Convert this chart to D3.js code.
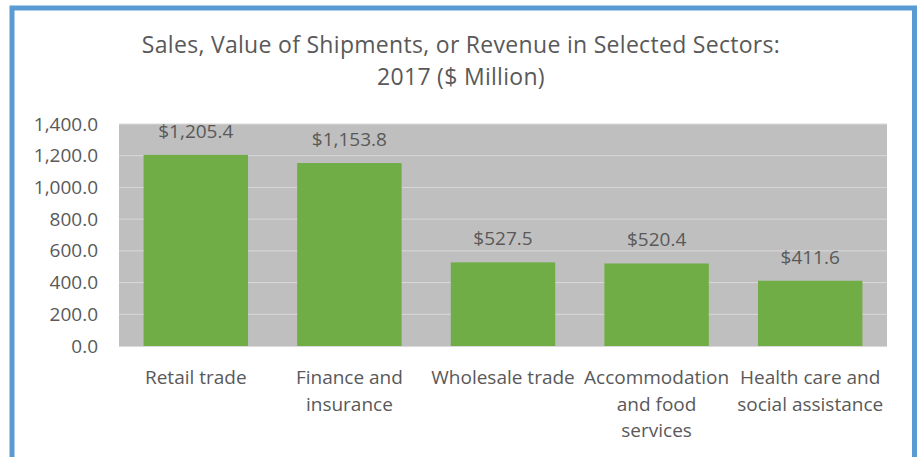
<!DOCTYPE html>
<html><head><meta charset="utf-8">
<script src="https://cdn.jsdelivr.net/npm/d3@7"></script>
<style>
html,body{margin:0;padding:0;background:#fff;}
svg{display:block;}
text{font-family:"Open Sans",sans-serif;fill:#595959;}
</style></head><body>
<svg id="c" width="917" height="457"></svg>
<script>
const categories = ["Retail trade","Finance and insurance","Wholesale trade","Accommodation and food services","Health care and social assistance"];
const categoryLines = [["Retail trade"],["Finance and","insurance"],["Wholesale trade"],["Accommodation","and food","services"],["Health care and","social assistance"]];
const values = [1205.4, 1153.8, 527.5, 520.4, 411.6];
const yTicks = [0,200,400,600,800,1000,1200,1400];
const titleLines = ["Sales, Value of Shipments, or Revenue in Selected Sectors:","2017 ($ Million)"];

const svg = d3.select("#c");
const W = 917, H = 457;
const plot = {left:119, right:887, top:124, bottom:346};

svg.append("rect").attr("x",12).attr("y",8).attr("width",W-12-2.5).attr("height",H+20)
  .attr("fill","none").attr("stroke","#5b9bd5").attr("stroke-width",5);

const x = d3.scaleBand().domain(categories).range([plot.left,plot.right]).paddingInner(0.32).paddingOuter(0.16);
const y = d3.scaleLinear().domain([0,1400]).range([plot.bottom,plot.top]);

svg.append("rect").attr("x",plot.left).attr("y",plot.top).attr("width",plot.right-plot.left)
  .attr("height",plot.bottom-plot.top).attr("fill","#bfbfbf");

svg.append("g").selectAll("line").data(yTicks.slice(1)).join("line")
  .attr("x1",plot.left).attr("x2",plot.right)
  .attr("y1",d=>y(d)).attr("y2",d=>y(d))
  .attr("stroke","#d9d9d9").attr("stroke-width",1);

const yAxis = d3.axisLeft(y).tickValues(yTicks).tickFormat(d3.format(",.1f")).tickSize(0).tickPadding(21);
const ya = svg.append("g").attr("transform",`translate(${plot.left},0)`).call(yAxis);
ya.select(".domain").remove();
ya.selectAll("text").style("font-size","19px").attr("fill","#595959").attr("font-family","Open Sans");

svg.append("g").selectAll("rect").data(values).join("rect")
  .attr("x",(d,i)=>x(categories[i])).attr("width",x.bandwidth())
  .attr("y",d=>y(d)).attr("height",d=>y(0)-y(d)).attr("fill","#70ad47");

svg.append("g").selectAll("text").data(values).join("text")
  .attr("x",(d,i)=>x(categories[i])+x.bandwidth()/2).attr("y",d=>y(d)-17)
  .attr("text-anchor","middle").style("font-size","19px")
  .text(d=>"$"+d3.format(",.1f")(d));

svg.append("line").attr("x1",plot.left).attr("x2",plot.right).attr("y1",plot.bottom+0.5).attr("y2",plot.bottom+0.5)
  .attr("stroke","#d9d9d9");

const cl = svg.append("g");
categories.forEach((c,i)=>{
  const t = cl.append("text").attr("x",x(c)+x.bandwidth()/2).attr("y",384)
    .attr("text-anchor","middle").style("font-size","19px");
  categoryLines[i].forEach((ln,j)=>{
    t.append("tspan").attr("x",x(c)+x.bandwidth()/2).attr("dy",j===0?0:26.5).text(ln);
  });
});

const tt = svg.append("text").attr("x",461).attr("y",53).attr("text-anchor","middle")
  .style("font-size","23px").style("letter-spacing","0.3px");
titleLines.forEach((ln,j)=>tt.append("tspan").attr("x",461).attr("dy",j===0?0:32).text(ln));
</script>
</body></html>
